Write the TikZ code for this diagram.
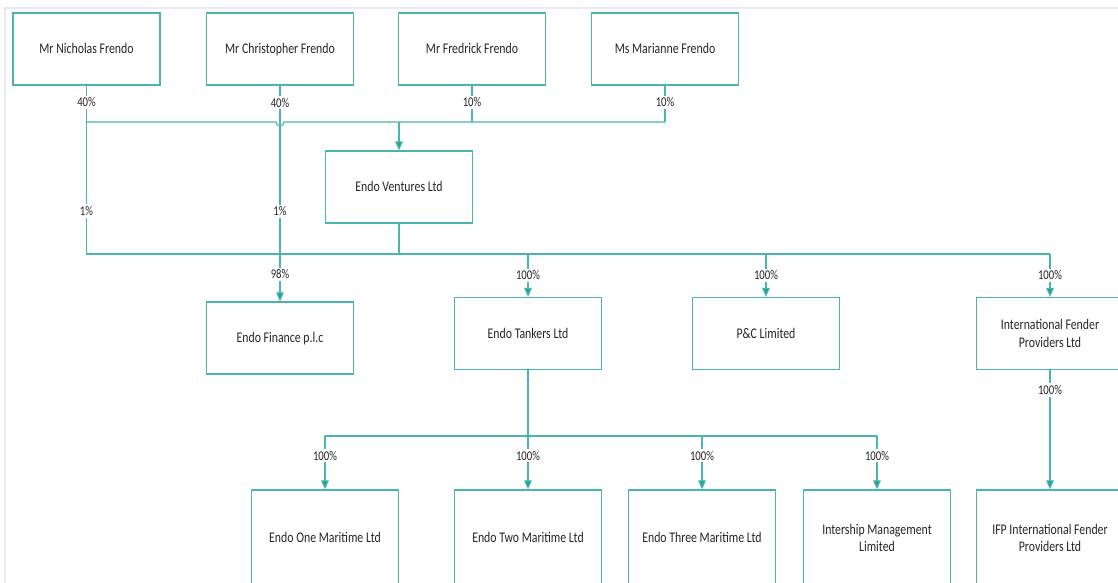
\documentclass[tikz,border=0pt]{standalone}
\usepackage{fontspec}
\setmainfont{Carlito}[FakeStretch=0.8]
\usetikzlibrary{arrows.meta}
\definecolor{tealline}{RGB}{72,182,174}
\definecolor{tealtip}{RGB}{28,166,152}
\definecolor{framegray}{RGB}{232,236,241}

\begin{document}
\begin{tikzpicture}[x = 0.025cm, y = -0.025cm,
	entity/.style = {draw = tealline, line width = 0.8pt, fill = white, minimum width = 3.675cm, minimum height = 1.8cm, align = center, text = black!85, font = \fontsize{10.5}{12.5}\selectfont},
	single/.style = {entity, text height = 0.8em, text depth = 0.15em},
	tall/.style = {minimum height = 2.4cm},
	pct/.style = {fill = white, inner sep = 1.5pt, text = black!85, font = \fontsize{9.5}{10}\selectfont},
	link/.style = {draw = tealline, line width = 0.8pt},
	owns/.style = {link, -{Triangle[width = 5.5pt, length = 6.5pt, fill = tealtip]}}]
	\useasboundingbox (0,0) rectangle (1118,583);
	\draw[framegray, line width = 1pt] (5,583) -- (5,8) -- (1118,8);

	\node[single] (nicholas) at (86.5,49) {Mr Nicholas Frendo};
	\node[single] (christopher) at (280,49) {Mr Christopher Frendo};
	\node[single] (fredrick) at (472,49) {Mr Fredrick Frendo};
	\node[single] (marianne) at (665,49) {Ms Marianne Frendo};
	\node[single] (ventures) at (399,187) {Endo Ventures Ltd};
	\node[single] (finance) at (280,338) {Endo Finance p.l.c};
	\node[single] (tankers) at (528,333.5) {Endo Tankers Ltd};
	\node[single] (pandc) at (766,333.5) {P\&C Limited};
	\node[entity] (fender) at (1050,333.5) {International Fender\\Providers Ltd};
	\node[single, tall] (one) at (325,538) {Endo One Maritime Ltd};
	\node[single, tall] (two) at (528,538) {Endo Two Maritime Ltd};
	\node[single, tall] (three) at (702,538) {Endo Three Maritime Ltd};
	\node[entity, tall] (intership) at (877,538) {Intership Management\\Limited};
	\node[entity, tall] (ifp) at (1050,538) {IFP International Fender\\Providers Ltd};

	\coordinate (topbus) at (399,122);
	\coordinate (midbus) at (399,254);
	\coordinate (lowbus) at (528,436);

	\draw[link] (nicholas.south |- topbus) -- (276,122) arc[start angle = 180, end angle = 0, radius = 4] -- (marianne.south |- topbus);
	\draw[link] (fredrick.south) -- node[pct, pos = 0.46]{10\%} (fredrick.south |- topbus);
	\draw[link] (marianne.south) -- node[pct, pos = 0.46]{10\%} (marianne.south |- topbus);
	\draw[owns] (topbus) -- (ventures.north);

	\draw[link] (nicholas.south) -- node[pct, pos = 0.1]{40\%} node[pct, pos = 0.746]{1\%} (nicholas.south |- midbus) -- (midbus);
	\draw[owns] (christopher.south) -- node[pct, pos = 0.079]{40\%} node[pct, pos = 0.583]{1\%} node[pct, pos = 0.875]{98\%} (finance.north);
	\draw[link] (ventures.south) -- (midbus) -- (fender.north |- midbus);
	\draw[owns] (tankers.north |- midbus) -- node[pct]{100\%} (tankers.north);
	\draw[owns] (pandc.north |- midbus) -- node[pct]{100\%} (pandc.north);
	\draw[owns] (fender.north |- midbus) -- node[pct]{100\%} (fender.north);

	\draw[link] (tankers.south) -- (lowbus);
	\draw[link] (one.north |- lowbus) -- (intership.north |- lowbus);
	\draw[owns] (one.north |- lowbus) -- node[pct, pos = 0.37]{100\%} (one.north);
	\draw[owns] (two.north |- lowbus) -- node[pct, pos = 0.37]{100\%} (two.north);
	\draw[owns] (three.north |- lowbus) -- node[pct, pos = 0.37]{100\%} (three.north);
	\draw[owns] (intership.north |- lowbus) -- node[pct, pos = 0.37]{100\%} (intership.north);
	\draw[owns] (fender.south) -- node[pct, pos = 0.167]{100\%} (ifp.north);
\end{tikzpicture}
\end{document}
